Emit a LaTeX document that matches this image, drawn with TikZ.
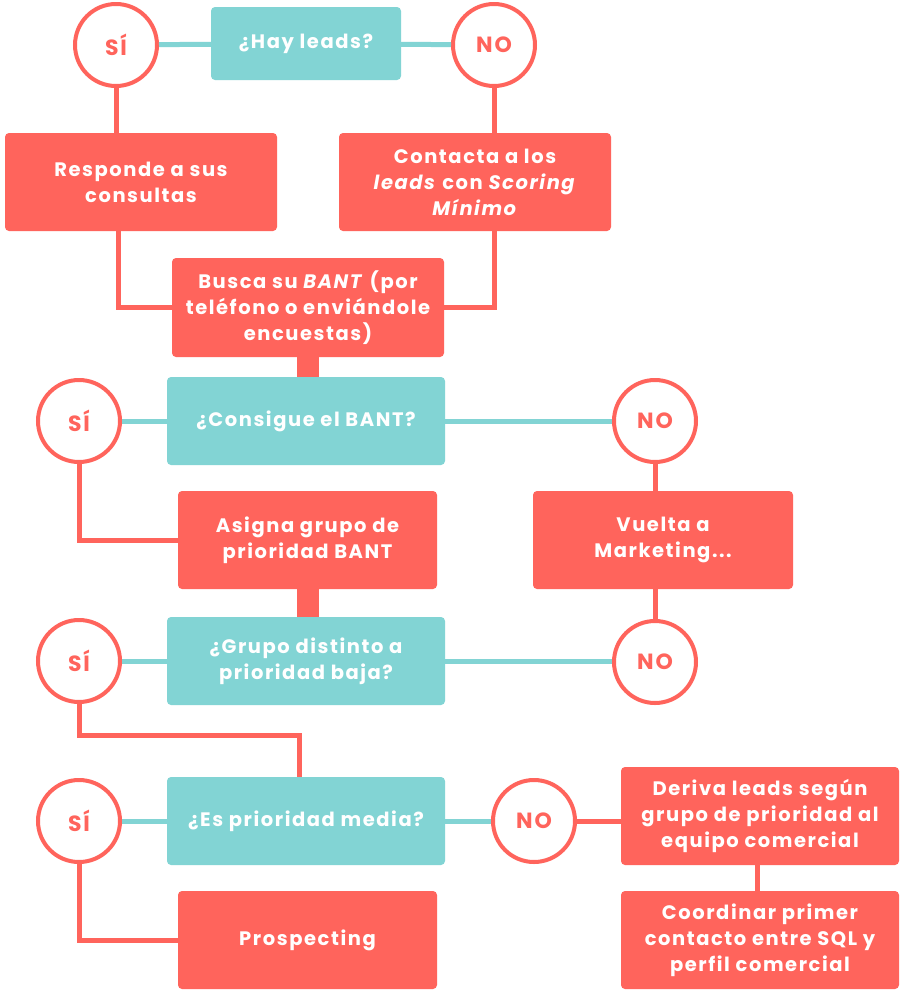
\documentclass[tikz,border=0pt]{standalone}
\usepackage{fontspec}
\setmainfont{Poppins}[LetterSpace=8]
\definecolor{coral}{RGB}{255,100,92}
\definecolor{tealc}{RGB}{130,212,212}
\begin{document}
\begin{tikzpicture}[x=1pt,y=-1pt,
  box/.style={rectangle, rounded corners=4pt, fill=#1, text=white, font=\fontsize{19.5}{26}\selectfont\bfseries, align=center, inner sep=0pt},
  cbox/.style={box=coral},
  tbox/.style={box=tealc},
  circ/.style={circle, draw=coral, line width=4pt, fill=white, minimum size=82pt, inner sep=0pt, text=coral, font=\fontsize{22}{24}\selectfont\bfseries},
  tline/.style={draw=tealc, line width=5pt},
  cline/.style={draw=coral, line width=5pt},
  thick/.style={draw=coral, line width=22pt}
]
\useasboundingbox[fill=white] (0,0) rectangle (904,994);

% row 1
\node[tbox, minimum width=190pt, minimum height=73pt] (q1) at (306,43.5) {¿Hay leads?};
\node[circ] (s1) at (116,45) {SÍ};
\node[circ] (n1) at (494,45) {NO};
\node[cbox, minimum width=272pt, minimum height=98pt] (r1) at (141,182) {Responde a sus\\consultas};
\node[cbox, minimum width=272pt, minimum height=98pt] (k1) at (475,182) {Contacta a los\\\textit{leads} con \textit{Scoring}\\\textit{Mínimo}};
\node[cbox, minimum width=272pt, minimum height=99pt] (b1) at (308,307.5) {Busca su \textit{BANT} (por\\teléfono o enviándole\\encuestas)};

% row 2
\node[tbox, minimum width=278pt, minimum height=88pt] (c1) at (306,421) {¿Consigue el BANT?};
\node[circ] (s2) at (79,421) {SÍ};
\node[circ] (n2) at (655,421) {NO};
\node[cbox, minimum width=259pt, minimum height=98pt] (a1) at (307.5,540) {Asigna grupo de\\prioridad BANT};
\node[cbox, minimum width=260pt, minimum height=98pt] (v1) at (663,540) {Vuelta a\\Marketing...};

% row 3
\node[tbox, minimum width=278pt, minimum height=88pt] (g1) at (306,661) {¿Grupo distinto a\\prioridad baja?};
\node[circ] (s3) at (79,661) {SÍ};
\node[circ] (n3) at (655,662) {NO};

% row 4
\node[tbox, minimum width=278pt, minimum height=88pt] (e1) at (306,821) {¿Es prioridad media?};
\node[circ] (s4) at (79,821) {SÍ};
\node[circ] (n4) at (534,821) {NO};
\node[cbox, minimum width=278pt, minimum height=98pt] (d1) at (760,816) {Deriva leads según\\grupo de prioridad al\\equipo comercial};
\node[cbox, minimum width=278pt, minimum height=98pt] (o1) at (760,940) {Coordinar primer\\contacto entre SQL y\\perfil comercial};
\node[cbox, minimum width=259pt, minimum height=98pt] (p1) at (307.5,940) {Prospecting};

\coordinate (j1) at (299,735);

% connectors
\draw[tline] (s1) -- (q1);
\draw[tline] (q1) -- (n1);
\draw[cline] (s1) -- (s1 |- r1.north);
\draw[cline] (n1) -- (n1 |- k1.north);
\draw[cline] ([xshift=-23pt]r1.south) |- (b1.west);
\draw[cline] ([xshift=19pt]k1.south) |- (b1.east);
\draw[thick] (b1.south) -- (b1.south |- c1.north);
\draw[tline] (s2) -- (c1);
\draw[tline] (c1) -- (n2);
\draw[cline] (s2) |- (a1.west);
\draw[cline] (n2) -- (n2 |- v1.north);
\draw[cline] (n2 |- v1.south) -- (n3);
\draw[thick] (a1.south) -- (a1.south |- g1.north);
\draw[tline] (s3) -- (g1);
\draw[tline] (g1.east) -- (n3.west |- g1.east);
\draw[cline] (s3.south) |- (j1) -- (j1 |- e1.north);
\draw[tline] (s4) -- (e1);
\draw[tline] (e1) -- (n4);
\draw[cline] (n4) -- (d1.west |- n4);
\draw[cline] ([xshift=-3pt]d1.south) -- ([xshift=-3pt]o1.north);
\draw[cline] (s4) |- (p1.west);
\end{tikzpicture}
\end{document}
